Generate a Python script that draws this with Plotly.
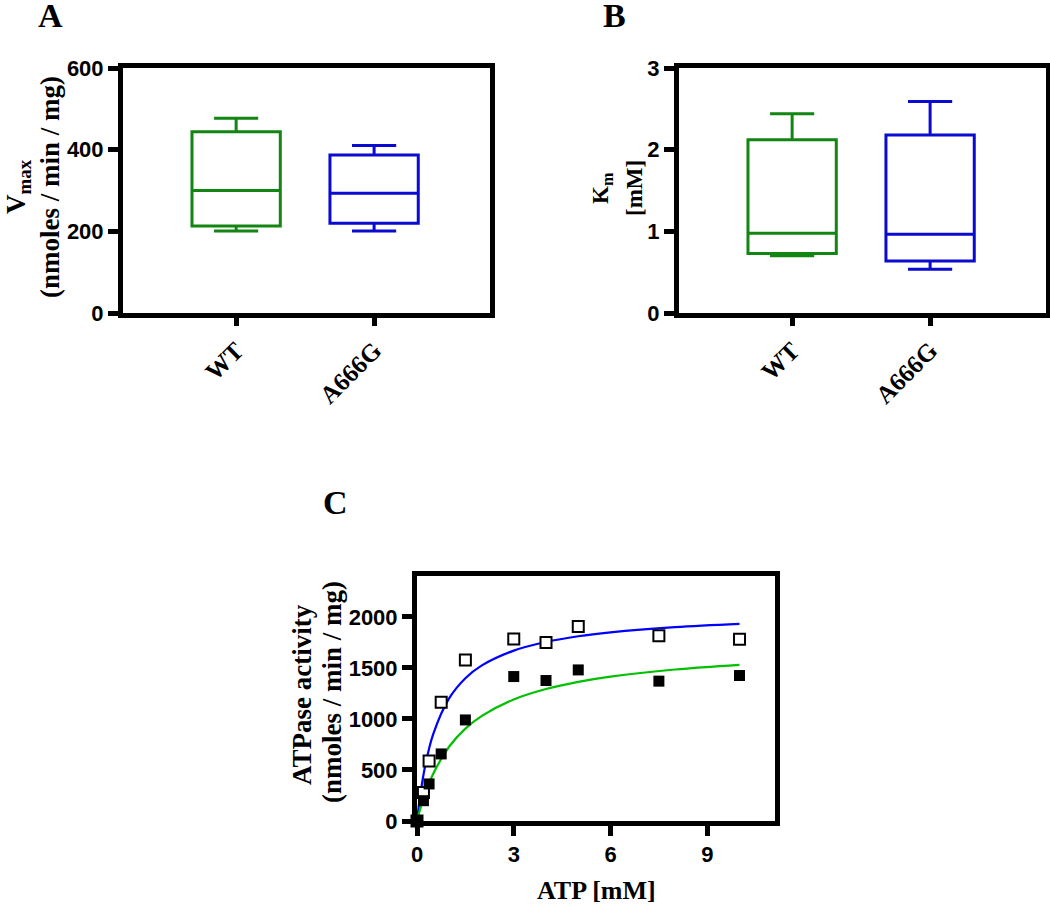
import plotly.graph_objects as go

W, H = 1050, 906

# panel A / B: box summaries (q1, median, q3, whisker ends)
groups = ["WT", "A666G"]
box_colors = ["#138513", "#0a0ad0"]

vmax_low = [201, 201]
vmax_q1 = [213, 220]
vmax_med = [300, 293]
vmax_q3 = [444, 387]
vmax_high = [477, 410]

km_low = [0.70, 0.535]
km_q1 = [0.73, 0.637]
km_med = [0.976, 0.963]
km_q3 = [2.12, 2.18]
km_high = [2.44, 2.59]

# panel C: ATPase activity vs ATP
atp = [0, 0.2, 0.375, 0.75, 1.5, 3, 4, 5, 7.5, 10]
act_open = [0, 280, 588, 1163, 1578, 1784, 1748, 1905, 1814, 1781]
act_filled = [0, 199, 363, 657, 990, 1415, 1376, 1480, 1370, 1425]

# fitted curves
fit_x = [0, 0.1, 0.25, 0.5, 1, 1.5, 2, 3, 4, 5, 6, 8, 10]
fit_blue = [0, 252, 533, 848, 1203, 1399, 1522, 1669, 1754, 1810, 1848, 1899, 1931]
fit_green = [0, 117, 266, 461, 730, 905, 1028, 1191, 1293, 1363, 1414, 1484, 1530]


def px_x(a, b):
    return [a / W, b / W]


def px_y(top, bottom):
    return [1 - bottom / H, 1 - top / H]


fig = go.Figure()

for i, g in enumerate(groups):
    fig.add_trace(go.Box(
        x=[g], q1=[vmax_q1[i]], median=[vmax_med[i]], q3=[vmax_q3[i]],
        lowerfence=[vmax_low[i]], upperfence=[vmax_high[i]],
        width=0.64, whiskerwidth=0.5, boxpoints=False,
        line=dict(color=box_colors[i], width=3), fillcolor="rgba(0,0,0,0)",
        xaxis="x", yaxis="y", showlegend=False))
    fig.add_trace(go.Box(
        x=[g], q1=[km_q1[i]], median=[km_med[i]], q3=[km_q3[i]],
        lowerfence=[km_low[i]], upperfence=[km_high[i]],
        width=0.64, whiskerwidth=0.5, boxpoints=False,
        line=dict(color=box_colors[i], width=3), fillcolor="rgba(0,0,0,0)",
        xaxis="x2", yaxis="y2", showlegend=False))

fig.add_trace(go.Scatter(x=fit_x, y=fit_blue, mode="lines", line=dict(color="#0000ff", width=2.2, shape="spline"),
                         xaxis="x3", yaxis="y3", showlegend=False))
fig.add_trace(go.Scatter(x=fit_x, y=fit_green, mode="lines", line=dict(color="#00c000", width=2.2, shape="spline"),
                         xaxis="x3", yaxis="y3", showlegend=False))
fig.add_trace(go.Scatter(x=atp, y=act_open, mode="markers", cliponaxis=False,
                         marker=dict(symbol="square", size=11, color="white", line=dict(color="black", width=2)),
                         xaxis="x3", yaxis="y3", showlegend=False))
fig.add_trace(go.Scatter(x=atp, y=act_filled, mode="markers", cliponaxis=False,
                         marker=dict(symbol="square", size=11, color="black", line=dict(color="black", width=0)),
                         xaxis="x3", yaxis="y3", showlegend=False))

tick_font = dict(family="Liberation Sans, Arial", size=22, color="black", weight="bold")
serif = "Liberation Serif, Times New Roman"
frame = dict(showline=True, linewidth=5, linecolor="black", mirror=True, ticks="outside",
             ticklen=10, tickwidth=5, tickcolor="black", showgrid=False, zeroline=False,
             tickfont=tick_font, automargin=False)

cat_axis = dict(frame, categoryorder="array", categoryarray=groups, range=[-0.82, 1.84],
                tickangle=-45, ticklen=8,
                tickfont=dict(family=serif, size=25, color="black", weight="bold"))

fig.update_layout(
    width=W, height=H, margin=dict(l=0, r=0, t=0, b=0, autoexpand=False),
    paper_bgcolor="white", plot_bgcolor="white",
    xaxis=dict(cat_axis, domain=px_x(123, 490), anchor="y"),
    yaxis=dict(frame, domain=px_y(68, 313), range=[0, 600], tickvals=[0, 200, 400, 600], anchor="x"),
    xaxis2=dict(cat_axis, domain=px_x(679, 1046), anchor="y2"),
    yaxis2=dict(frame, domain=px_y(68, 313), range=[0, 3], tickvals=[0, 1, 2, 3], anchor="x2"),
    xaxis3=dict(frame, domain=px_x(417, 775), range=[0, 11.1], tickvals=[0, 3, 6, 9], anchor="y3"),
    yaxis3=dict(frame, domain=px_y(576, 821), range=[0, 2400], tickvals=[0, 500, 1000, 1500, 2000], anchor="x3"),
)


def label(text, x, y, size, angle=0):
    fig.add_annotation(text=text, x=x / W, y=1 - y / H, xref="paper", yref="paper",
                       xanchor="center", yanchor="middle", showarrow=False, textangle=angle,
                       font=dict(family=serif, size=size, color="black"))


# panel letters
label("<b>A</b>", 50, 16, 34)
label("<b>B</b>", 614, 16, 34)
label("<b>C</b>", 335, 503, 34)

# axis titles
label("<b>V<sub>max</sub></b>", 18, 187, 27, -90)
label("<b>(nmoles / min / mg)</b>", 50, 187, 27, -90)
label("<b>K<sub>m</sub></b>", 602, 188, 23, -90)
label("<b>[mM]</b>", 635, 188, 23, -90)
label("<b>ATPase activity</b>", 302, 695, 27, -90)
label("<b>(nmoles / min / mg)</b>", 332, 692, 27, -90)
label("<b>ATP [mM]</b>", 596, 890, 26)

# drop the browser's default body margin so the figure sits at the page corner
fig.write_html("out.html", config={"displayModeBar": False},
               post_script="document.body.style.margin = '0';")
